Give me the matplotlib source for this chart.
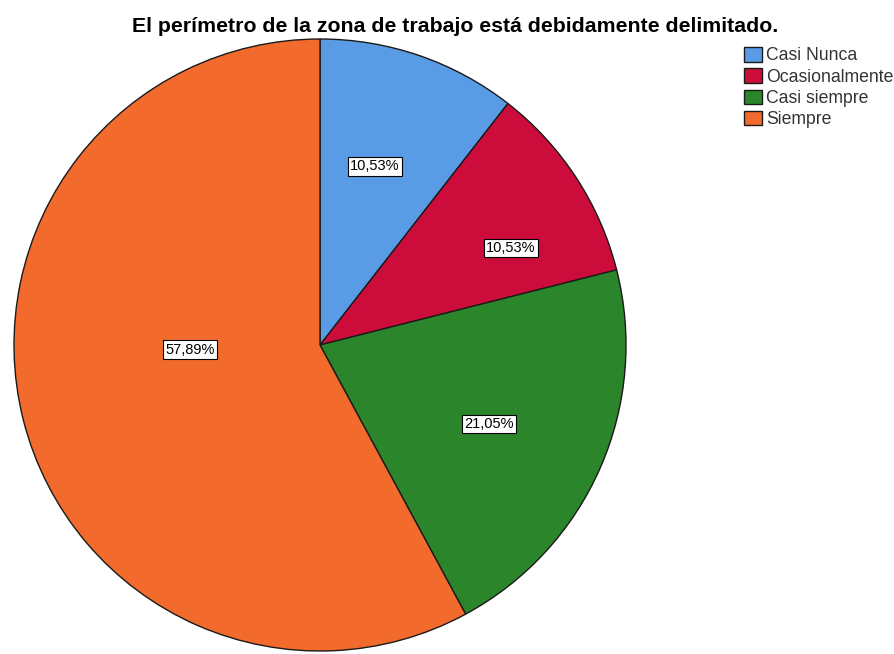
import matplotlib
matplotlib.use('Agg')
import matplotlib.pyplot as plt
import numpy as np

# 频数与类别
categories = ["Casi Nunca", "Ocasionalmente", "Casi siempre", "Siempre"]
counts = [2, 2, 4, 11]
colors = ["#5A9BE5", "#CC0C3A", "#2B862B", "#F26B2D"]

# 标签在饼图内的位置 (角度, 半径比例)
label_pos = [(73, 0.61), (27, 0.70), (-25, 0.61), (182, 0.425)]

plt.rcParams['font.family'] = ['Liberation Sans', 'DejaVu Sans']

fig = plt.figure(figsize=(8.94, 6.54), dpi=100)
# 饼图圆心约 (320, 345) 像素，半径约 306
ax = fig.add_axes([14 / 894, (654 - 651) / 654, 612 / 894, 612 / 654])

wedges, texts, autotexts = ax.pie(
    counts, colors=colors, startangle=90, counterclock=False,
    autopct=lambda p: f"{p:.2f}%".replace(".", ","),
    wedgeprops=dict(edgecolor="#1a1a1a", linewidth=1.0),
    textprops=dict(fontsize=10.5, color="black"),
)
for t, (ang, r) in zip(autotexts, label_pos):
    a = np.deg2rad(ang)
    t.set_position((r * np.cos(a), r * np.sin(a)))
    t.set_bbox(dict(boxstyle="square,pad=0.15", facecolor="white",
                    edgecolor="black", linewidth=0.8))
ax.set_xlim(-1, 1)
ax.set_ylim(-1, 1)
ax.set_aspect("equal")
ax.axis("off")

fig.text(455 / 894, 1 - 32 / 654, "El perímetro de la zona de trabajo está debidamente delimitado.",
         ha="center", va="baseline", fontsize=15.3, fontweight="bold")

leg = fig.legend(wedges, categories, loc="upper left",
                 bbox_to_anchor=(744 / 894, 1 - 47 / 654), frameon=False,
                 fontsize=12.7, handlelength=1.02, handleheight=0.9,
                 handletextpad=0.23, labelspacing=0.22, borderpad=0,
                 borderaxespad=0)
for txt in leg.get_texts():
    txt.set_color("#333333")

fig.savefig("out.png", dpi=100)
